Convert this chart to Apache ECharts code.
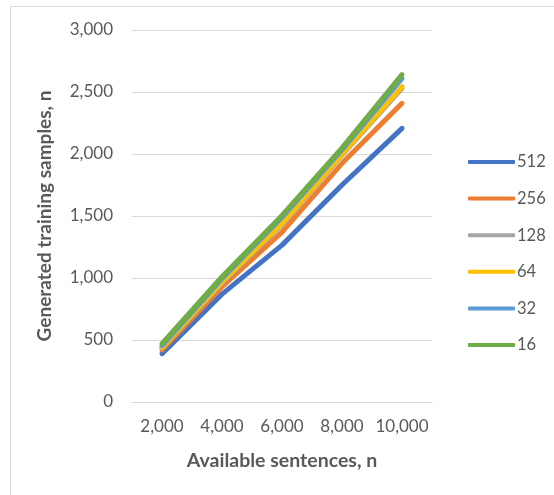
<!DOCTYPE html>
<html>
<head>
<meta charset="utf-8">
<script src="https://cdn.jsdelivr.net/npm/echarts@6/dist/echarts.min.js"></script>
<style>html,body{margin:0;padding:0;background:#fff}#c{width:554px;height:495px}</style>
</head>
<body>
<div id="c"></div>
<script>
var categories = ['2,000', '4,000', '6,000', '8,000', '10,000'];
var seriesNames = ['512', '256', '128', '64', '32', '16'];
var s512 = [390, 870, 1265, 1750, 2207];
var s256 = [420, 930, 1370, 1925, 2409];
var s128 = [435, 960, 1430, 1990, 2530];
var s64 = [442, 970, 1440, 2000, 2543];
var s32 = [455, 995, 1490, 2035, 2610];
var s16 = [470, 1010, 1505, 2050, 2640];
var yTicks = [0, 500, 1000, 1500, 2000, 2500, 3000];
var colors = ['#4472C4', '#ED7D31', '#A5A5A5', '#FFC000', '#5B9BD5', '#70AD47'];
var allData = [s512, s256, s128, s64, s32, s16];

var font = 'Lato';
var chart = echarts.init(document.getElementById('c'));
chart.setOption({
  animation: false,
  graphic: [{
    type: 'rect', shape: {x: 10.5, y: 6.5, width: 700, height: 700},
    style: {fill: 'none', stroke: '#d9d9d9', lineWidth: 1}, silent: true, z: -10
  }],
  grid: {left: 132, right: 122, top: 30, bottom: 93},
  legend: {
    orient: 'vertical', left: 463, top: 148, itemGap: 18.6,
    itemWidth: 47, itemHeight: 4,
    icon: 'roundRect',
    data: seriesNames,
    textStyle: {fontFamily: font, fontSize: 16.5, color: '#595959', lineHeight: 18, padding: [0, 0, 0, -3]}
  },
  xAxis: {
    type: 'category', data: categories, boundaryGap: true,
    axisLine: {show: true, lineStyle: {color: '#d9d9d9', width: 1}},
    axisTick: {show: false},
    axisLabel: {fontFamily: font, fontSize: 17, color: '#595959', margin: 16, interval: 0},
    name: 'Available sentences, n', nameLocation: 'middle', nameGap: 49,
    nameTextStyle: {fontFamily: font, fontSize: 19.5, fontWeight: 'bold', color: '#595959'}
  },
  yAxis: {
    type: 'value', min: 0, max: 3000, interval: 500,
    axisLine: {show: false}, axisTick: {show: false},
    splitLine: {lineStyle: {color: '#d9d9d9', width: 1}},
    axisLabel: {
      fontFamily: font, fontSize: 17, color: '#595959', margin: 19,
      formatter: function (v) { return yTicks.indexOf(v) >= 0 ? v.toLocaleString('en-US') : ''; }
    },
    name: 'Generated training samples, n', nameLocation: 'middle', nameGap: 78,
    nameTextStyle: {fontFamily: font, fontSize: 19, fontWeight: 'bold', color: '#595959'}
  },
  series: seriesNames.map(function (n, i) {
    return {
      name: n, type: 'line', data: allData[i], showSymbol: false, symbol: 'none',
      color: colors[i],
      itemStyle: {color: colors[i]},
      lineStyle: {width: 5, color: colors[i], cap: 'round', join: 'round'}
    };
  })
});
</script>
</body>
</html>
